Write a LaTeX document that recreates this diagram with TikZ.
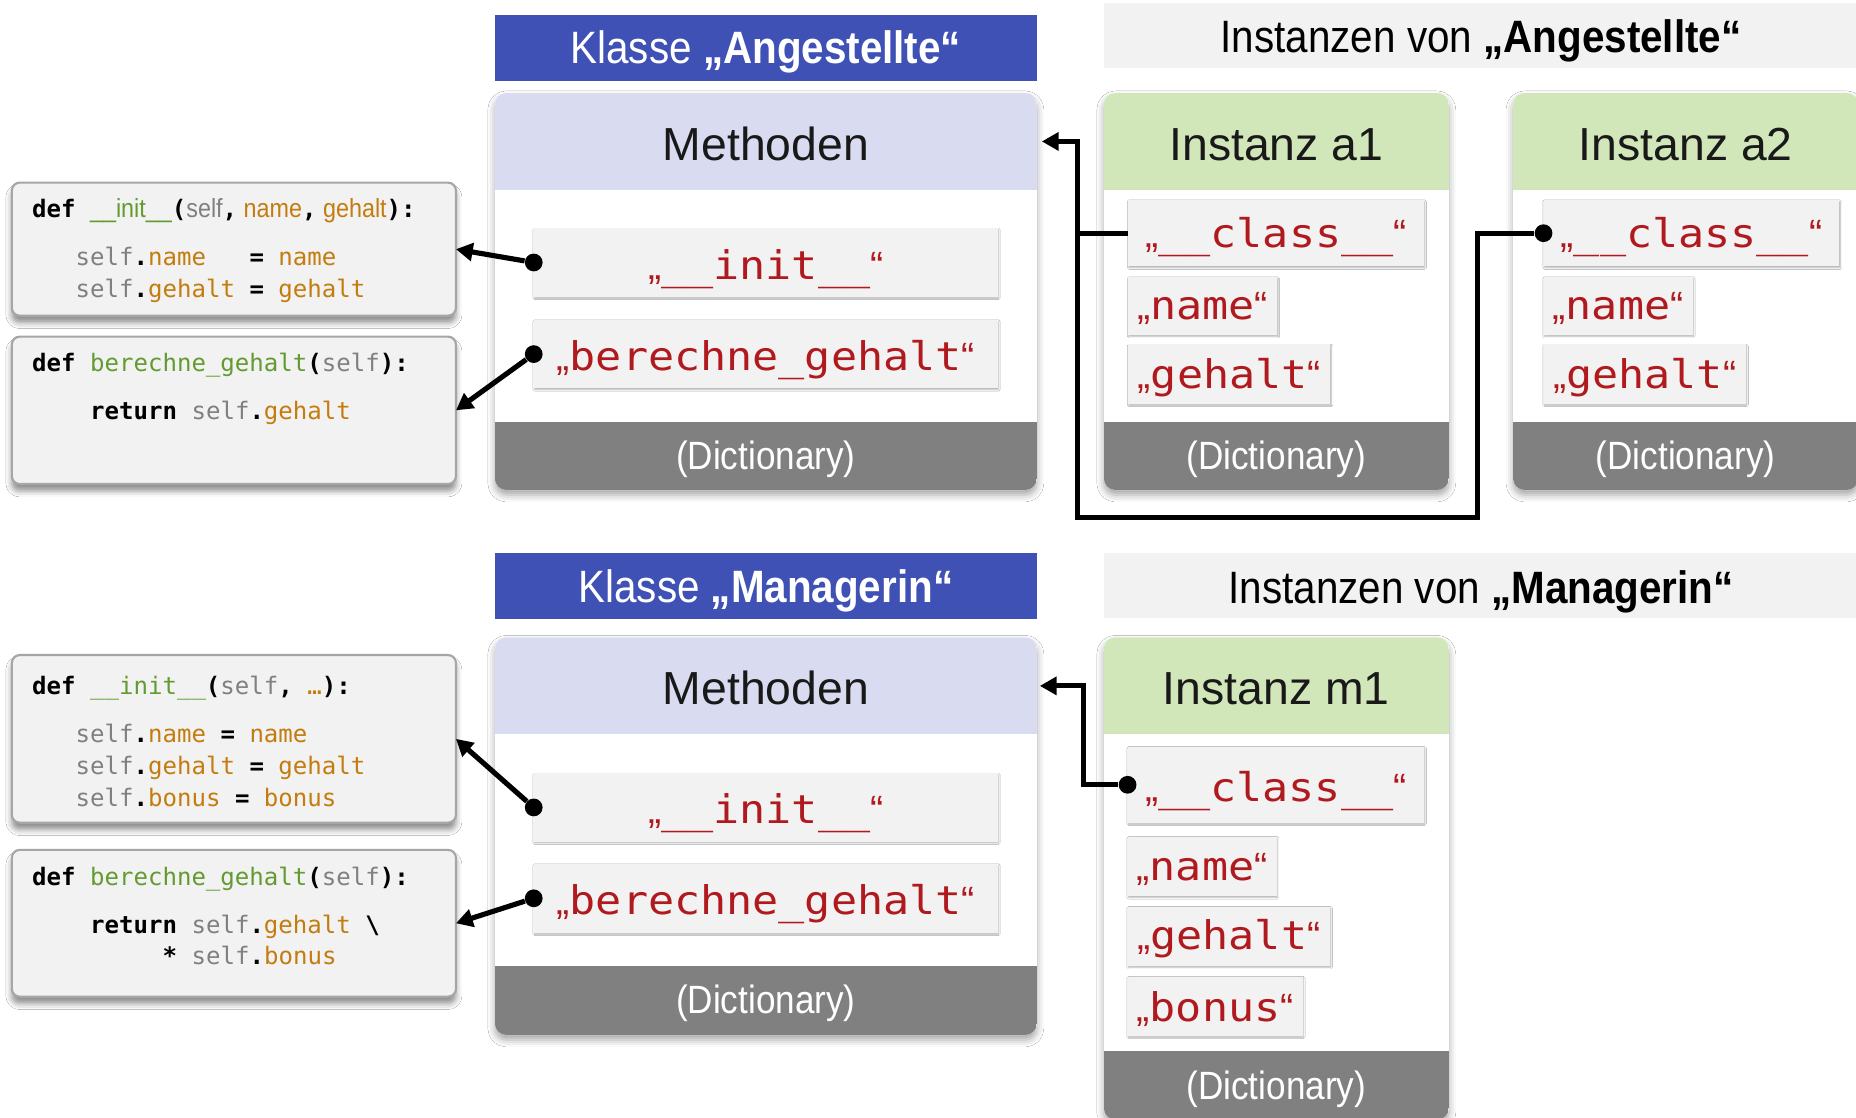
\documentclass[tikz,border=0pt]{standalone}
\usepackage{fontspec}
\setmainfont{Liberation Sans}
\newfontfamily\condfont[FakeStretch=0.89]{Liberation Sans}
\newfontfamily\codefont{DejaVu Sans Mono}
\newfontfamily\keyfont[FakeStretch=1.1]{DejaVu Sans Mono}
\usetikzlibrary{arrows.meta,shadows.blur}

\definecolor{hdrblue}{RGB}{63,81,181}
\definecolor{methlav}{RGB}{217,220,240}
\definecolor{instgreen}{RGB}{209,230,185}
\definecolor{footgray}{RGB}{128,128,128}
\definecolor{paleg}{RGB}{242,242,242}
\definecolor{codeedge}{RGB}{166,166,166}
\definecolor{keyred}{RGB}{176,26,30}
\definecolor{cgreen}{RGB}{98,155,48}
\definecolor{corange}{RGB}{196,124,14}
\definecolor{cgray}{RGB}{128,128,128}

% rectangle node given by its left, top, right, bottom edges and the text baseline
\newcommand\boxat[8]{%
  \pgfmathsetmacro\bxw{(#5-#3)*0.6}%
  \pgfmathsetmacro\bxh{(#7-#4)*0.6}%
  \pgfmathsetmacro\bxd{(#6-#7)*0.6}%
  \node[#2, anchor=north west, inner sep=0pt, outer sep=0pt,
        minimum width=\bxw pt, text height=\bxh pt, text depth=\bxd pt] (#1) at (#3,#4) {#8};}

% dictionary keys: proportional quotes around monospaced names
\newcommand\kq[1]{{\rmfamily „}{\keyfont #1}{\rmfamily “}}
% code colouring
\newcommand\sv{\textcolor{cgray}{self}}
\newcommand\at[1]{\textcolor{corange}{#1}}
\newcommand\fnc[1]{\textcolor{cgreen}{#1}}
\newcommand\cf{\condfont\fontsize{13.3}{15}\selectfont}

\tikzset{
  panelbody/.style={fill=white, rounded corners=6pt,
    blur shadow={shadow xshift=0pt, shadow yshift=-2.5pt, shadow blur radius=3.5pt, shadow opacity=35}},
  titletext/.style={font=\fontsize{23.5}{28}\selectfont, text=black!90},
  foottext/.style={fill=footgray, text=white, font=\condfont\fontsize{20}{24}\selectfont},
  clshead/.style={fill=hdrblue, text=white, font=\condfont\fontsize{23}{27}\selectfont},
  instbar/.style={fill=paleg, text=black, font=\condfont\fontsize{23}{27}\selectfont},
  keybox/.style={fill=paleg, text=keyred, font=\fontsize{20}{24}\selectfont,
    blur shadow={shadow xshift=0.4pt, shadow yshift=-0.7pt, shadow blur radius=0.8pt, shadow opacity=30}},
  codebox/.style={fill=paleg, draw=codeedge, line width=1.1pt, rounded corners=4pt,
    blur shadow={shadow xshift=0pt, shadow yshift=-3.5pt, shadow blur radius=3pt, shadow opacity=45}},
  codeline/.style={anchor=base west, inner sep=0pt, font=\codefont\fontsize{12.2}{14}\selectfont},
  dot/.style={circle, fill=black, inner sep=0pt, minimum size=9pt},
  conn/.style={line width=2.6pt, draw=black},
  link/.style={conn, -{Triangle[length=8.5pt,width=9pt]}},
}

\begin{document}
\begin{tikzpicture}[x=0.6pt, y=-0.6pt]
\fill[white] (0,0) rectangle (1568,944);
\useasboundingbox (0,0) rectangle (1568,944);

% ---------- class headers and instance bars ----------
\boxat{clsA}{clshead}{418}{12.7}{876}{68.2}{54}{Klasse \textbf{„Angestellte“}}
\boxat{barA}{instbar}{932.5}{2.3}{1570}{57.2}{44.2}{Instanzen von \textbf{„Angestellte“}}
\boxat{clsM}{clshead}{418}{467.5}{876}{523}{509}{Klasse \textbf{„Managerin“}}
\boxat{barM}{instbar}{932.5}{467}{1570}{522.4}{509.5}{Instanzen von \textbf{„Managerin“}}

% ---------- dictionary panels ----------
\boxat{pA}{panelbody}{418}{78.5}{876}{414}{414}{}
\boxat{pa1}{panelbody}{932.5}{78.5}{1224}{414}{414}{}
\boxat{pa2}{panelbody}{1278.2}{78.5}{1570}{414}{414}{}
\boxat{pM}{panelbody}{418}{538.4}{876}{874.4}{874.4}{}
\boxat{pm1}{panelbody}{932.5}{538.4}{1224}{946}{946}{}

\begin{scope}
  \clip[rounded corners=6pt] (pA.north west) rectangle (pA.south east);
  \boxat{hA}{titletext, fill=methlav}{418}{78.5}{876}{160.5}{135.5}{Methoden}
  \boxat{fA}{foottext}{418}{356.2}{876}{414}{396.5}{(Dictionary)}
\end{scope}
\begin{scope}
  \clip[rounded corners=6pt] (pa1.north west) rectangle (pa1.south east);
  \boxat{ha1}{titletext, fill=instgreen}{932.5}{78.5}{1224}{160.5}{135.5}{Instanz a1}
  \boxat{fa1}{foottext}{932.5}{356.2}{1224}{414}{396.5}{(Dictionary)}
\end{scope}
\begin{scope}
  \clip[rounded corners=6pt] (pa2.north west) rectangle (pa2.south east);
  \boxat{ha2}{titletext, fill=instgreen}{1278.2}{78.5}{1570}{160.5}{135.5}{Instanz a2}
  \boxat{fa2}{foottext}{1278.2}{356.2}{1570}{414}{396.5}{(Dictionary)}
\end{scope}
\begin{scope}
  \clip[rounded corners=6pt] (pM.north west) rectangle (pM.south east);
  \boxat{hM}{titletext, fill=methlav}{418}{538.4}{876}{620.5}{595.5}{Methoden}
  \boxat{fM}{foottext}{418}{816.1}{876}{874.4}{856.5}{(Dictionary)}
\end{scope}
\begin{scope}
  \clip[rounded corners=6pt] (pm1.north west) rectangle (pm1.south east);
  \boxat{hm1}{titletext, fill=instgreen}{932.5}{538.4}{1224}{620.5}{595.5}{Instanz m1}
  \boxat{fm1}{foottext}{932.5}{888}{1224}{946}{928.5}{(Dictionary)}
\end{scope}

% ---------- keys ----------
\boxat{kAi}{keybox}{450.9}{192.9}{843}{250.6}{236}{\kq{\_\_init\_\_}}
\boxat{kAb}{keybox}{450.9}{270.3}{843}{328}{313}{\kq{berechne\_gehalt}}
\boxat{kMi}{keybox}{450.9}{653.3}{843}{711}{696}{\kq{\_\_init\_\_}}
\boxat{kMb}{keybox}{450.9}{729.9}{843}{787.9}{773}{\kq{berechne\_gehalt}}

\boxat{ka1c}{keybox}{953}{169}{1203}{225}{209}{\kq{\_\_class\_\_}}
\boxat{ka1n}{keybox}{953}{234}{1079}{283}{270}{\kq{name}}
\boxat{ka1g}{keybox}{953}{291}{1124}{341}{328}{\kq{gehalt}}

\boxat{ka2c}{keybox}{1304}{169}{1554}{225}{209}{\kq{\_\_class\_\_}}
\boxat{ka2n}{keybox}{1304}{234}{1430}{283}{270}{\kq{name}}
\boxat{ka2g}{keybox}{1304}{291}{1475}{341}{328}{\kq{gehalt}}

\boxat{km1c}{keybox}{952.6}{631}{1203}{695}{677.5}{\kq{\_\_class\_\_}}
\boxat{km1n}{keybox}{952.6}{707}{1078.5}{757}{744}{\kq{name}}
\boxat{km1g}{keybox}{952.6}{766}{1123.6}{816}{802}{\kq{gehalt}}
\boxat{km1b}{keybox}{952.6}{825}{1100.5}{875}{863}{\kq{bonus}}

% ---------- code boxes ----------
\boxat{c1}{codebox}{10}{154.3}{385.2}{266.7}{266.7}{}
\boxat{c2}{codebox}{10}{284.4}{385.2}{408.9}{408.9}{}
\boxat{c3}{codebox}{10}{553.4}{385.2}{695}{695}{}
\boxat{c4}{codebox}{10}{718}{385.2}{842}{842}{}

\node[codeline] (c1a) at (26.8,184) {\textbf{def}~{\cf\fnc{\_\_init\_\_}}\textbf{(}{\cf\sv}\textbf{,}{\cf\ \at{name}}\textbf{,}{\cf\ \at{gehalt}}\textbf{):}};
\node[codeline] (c1b) at (63.55,224.7) {\sv\textbf{.}\at{name}~~~\textbf{=}~\at{name}};
\node[codeline] (c1c) at (63.55,251.5) {\sv\textbf{.}\at{gehalt}~\textbf{=}~\at{gehalt}};

\node[codeline] (c2a) at (26.8,314) {\textbf{def}~\fnc{berechne\_gehalt}\textbf{(}\sv\textbf{):}};
\node[codeline] (c2b) at (75.8,354.3) {\textbf{return}~\sv\textbf{.}\at{gehalt}};

\node[codeline] (c3a) at (26.8,586.6) {\textbf{def}~\fnc{\_\_init\_\_}\textbf{(}\sv\textbf{,}~\at{…}\textbf{):}};
\node[codeline] (c3b) at (63.55,627.4) {\sv\textbf{.}\at{name}~\textbf{=}~\at{name}};
\node[codeline] (c3c) at (63.55,654.7) {\sv\textbf{.}\at{gehalt}~\textbf{=}~\at{gehalt}};
\node[codeline] (c3d) at (63.55,681.5) {\sv\textbf{.}\at{bonus}~\textbf{=}~\at{bonus}};

\node[codeline] (c4a) at (26.8,747.7) {\textbf{def}~\fnc{berechne\_gehalt}\textbf{(}\sv\textbf{):}};
\node[codeline] (c4b) at (75.8,788.5) {\textbf{return}~\sv\textbf{.}\at{gehalt}~\textbf{\textbackslash}};
\node[codeline] (c4c) at (137.05,814.4) {\textbf{*}~\sv\textbf{.}\at{bonus}};

% ---------- connectors ----------
\coordinate (busR) at (1248,437.5);
\coordinate (busL) at (910.5,437.5);
\coordinate (busM) at (915,663);

\node[dot] (dAi) at (kAi.west) {};
\node[dot] (dAb) at (kAb.west) {};
\node[dot] (dMi) at (kMi.west) {};
\node[dot] (dMb) at (kMb.west) {};
\node[dot] (da2) at (ka2c.west) {};
\node[dot] (dm1) at (km1c.west) {};

\draw[link] (dAi) -- (c1.east);
\draw[link] (dAb) -- (c2.east);
\draw[link] (dMi) -- (c3.east);
\draw[link] (dMb) -- (c4.east);

\draw[link] (da2) -| (busR) -- (busL) |- ([xshift=2.5pt]hA.east);
\draw[conn] (ka1c.west) -- (ka1c.west -| busL);
\draw[link] (dm1) -- (busM) |- ([xshift=1.5pt]hM.east);
\end{tikzpicture}
\end{document}
